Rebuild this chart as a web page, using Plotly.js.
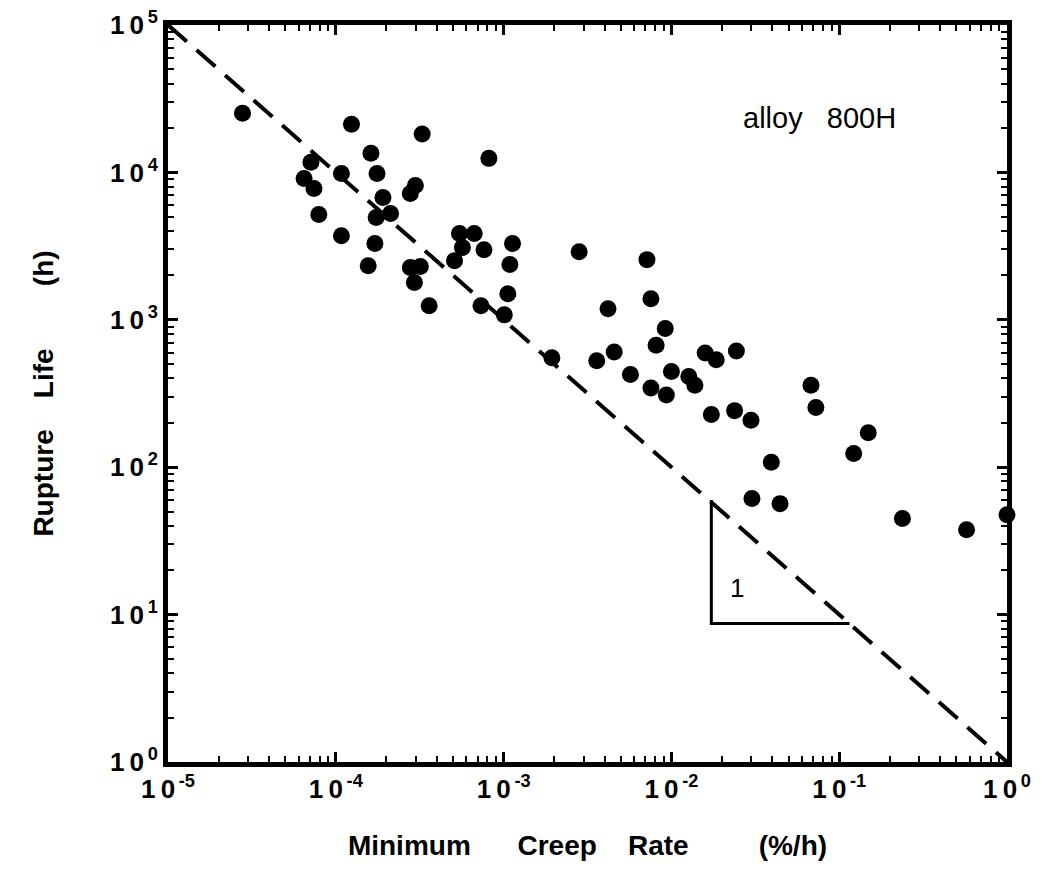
<!DOCTYPE html>
<html>
<head>
<meta charset="utf-8">
<script src="https://cdn.plot.ly/plotly-3.0.1.min.js"></script>
<style>html,body{margin:0;padding:0;background:#fff;}#chart{width:1046px;height:876px;}</style>
</head>
<body>
<div id="chart"></div>
<script>
// Minimum creep rate (%/h) and rupture life (h), alloy 800H
var creepRate = [2.78e-5, 1.24e-4, 3.27e-4, 1.62e-4, 7.11e-5, 6.47e-5, 7.41e-5, 1.08e-4, 1.76e-4, 2.98e-4,
  2.78e-4, 1.91e-4, 7.92e-5, 1.74e-4, 2.12e-4, 1.08e-4, 1.71e-4, 1.56e-4, 2.78e-4, 3.19e-4,
  2.94e-4, 3.60e-4, 8.17e-4, 5.46e-4, 6.68e-4, 5.68e-4, 5.10e-4, 7.64e-4, 1.13e-3, 1.09e-3,
  2.82e-3, 7.15e-3, 1.06e-3, 7.33e-4, 1.01e-3, 4.19e-3, 7.55e-3, 1.94e-3, 3.59e-3, 4.56e-3,
  5.70e-3, 8.11e-3, 9.19e-3, 7.55e-3, 9.33e-3, 0.0100, 0.0127, 0.0138, 0.0159, 0.0185,
  0.0244, 0.0173, 0.0238, 0.0298, 0.0679, 0.0726, 0.0394, 0.149, 0.122, 0.0302,
  0.0444, 0.238, 0.574, 1.0];
var ruptureLife = [25200, 21200, 18200, 13500, 11700, 9100, 7780, 9840, 9840, 8160,
  7200, 6760, 5180, 4940, 5260, 3720, 3290, 2330, 2260, 2300,
  1790, 1245, 12450, 3850, 3850, 3090, 2520, 2990, 3290, 2370,
  2900, 2560, 1500, 1245, 1080, 1190, 1390, 552, 527, 604,
  426, 673, 872, 344, 309, 446, 413, 360, 595, 535,
  614, 228, 242, 208, 360, 254, 108, 171, 124, 61.4,
  56.6, 44.8, 37.6, 47.6];
// reference line: life x rate = 1
var lineRate = [1e-5, 1];
var lineLife = [1e5, 1];
// slope triangle
var triRate = [0.0173, 0.0173, 0.1153];
var triLife = [60, 8.7, 8.7];
var xTickVals = [1e-5, 1e-4, 1e-3, 1e-2, 1e-1, 1];
var xTickExp = ['-5', '-4', '-3', '-2', '-1', '0'];
var yTickVals = [1, 10, 100, 1000, 1e4, 1e5];
var yTickExp = ['0', '1', '2', '3', '4', '5'];

function powLabel(e) { return '1&#8201;0<sup>&#8201;' + e + '</sup>'; }
function minorVals(lo, hi) {
  var v = [];
  for (var e = lo; e < hi; e++) for (var d = 2; d <= 9; d++) v.push(d * Math.pow(10, e));
  return v;
}

var FONT = 'Liberation Sans, Arial, sans-serif';
var traces = [
  {x: lineRate, y: lineLife, mode: 'lines', type: 'scatter', cliponaxis: true,
   line: {color: '#000', width: 4, dash: '25px,13px'}, hoverinfo: 'skip'},
  {x: triRate, y: triLife, mode: 'lines', type: 'scatter',
   line: {color: '#000', width: 3}, hoverinfo: 'skip'},
  {x: creepRate, y: ruptureLife, mode: 'markers', type: 'scatter', cliponaxis: false,
   marker: {color: '#000', size: 17, line: {width: 0}}}
];

var axisCommon = {
  type: 'log', showgrid: false, zeroline: false, showline: true, linecolor: '#000', linewidth: 5,
  mirror: 'allticks', ticks: 'inside', ticklen: 10, tickwidth: 3, tickcolor: '#000',
  tickmode: 'array',
  tickfont: {family: FONT, size: 26, color: '#000', weight: 'bold'}
};

var layout = {
  width: 1046, height: 876,
  margin: {l: 168, r: 39, t: 25, b: 114},
  paper_bgcolor: '#fff', plot_bgcolor: '#fff',
  showlegend: false,
  xaxis: Object.assign({}, axisCommon, {
    range: [-5, 0], tickvals: xTickVals, ticktext: xTickExp.map(powLabel),
    minor: {ticks: 'inside', ticklen: 6, tickwidth: 2, tickcolor: '#000', tickmode: 'array', tickvals: minorVals(-5, 0), showgrid: false},
    title: {text: 'Minimum&nbsp;&nbsp;&nbsp;&nbsp;&nbsp;&nbsp;Creep&nbsp;&nbsp;&nbsp;&nbsp;Rate&nbsp;&nbsp;&nbsp;&nbsp;&nbsp;&nbsp;&nbsp;&nbsp;&nbsp;(%/h)', standoff: 34,
            font: {family: FONT, size: 28, color: '#000', weight: 'bold'}}
  }),
  yaxis: Object.assign({}, axisCommon, {
    range: [0, 5], tickvals: yTickVals, ticktext: yTickExp.map(powLabel),
    minor: {ticks: 'inside', ticklen: 6, tickwidth: 2, tickcolor: '#000', tickmode: 'array', tickvals: minorVals(0, 5), showgrid: false},
    title: {text: 'Rupture&nbsp;&nbsp;&nbsp;&nbsp;Life&nbsp;&nbsp;&nbsp;&nbsp;&nbsp;&nbsp;&nbsp;&nbsp;(h)', standoff: 50,
            font: {family: FONT, size: 28, color: '#000', weight: 'bold'}}
  }),
  annotations: [
    {x: Math.log10(0.0766), y: Math.log10(23300), xref: 'x', yref: 'y', text: 'alloy&nbsp;&nbsp;&nbsp;800H', showarrow: false,
     font: {family: FONT, size: 29, color: '#000'}},
    {x: Math.log10(0.0247), y: Math.log10(15.1), xref: 'x', yref: 'y', text: '1', showarrow: false,
     font: {family: FONT, size: 26, color: '#000'}}
  ]
};

Plotly.newPlot('chart', traces, layout, {displayModeBar: false, staticPlot: true});
</script>
</body>
</html>
